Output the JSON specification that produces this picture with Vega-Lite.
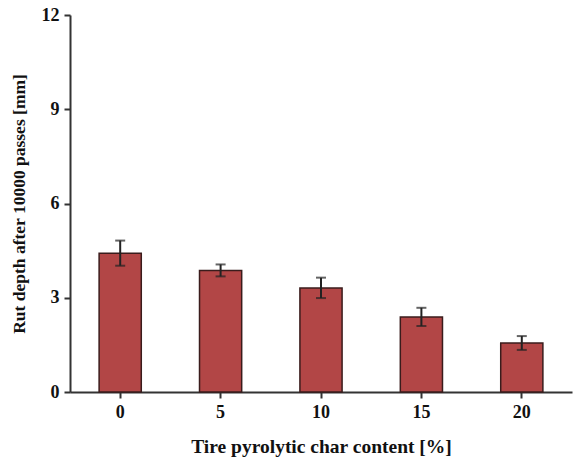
{
  "$schema": "https://vega.github.io/schema/vega-lite/v6.json",
  "autosize": "none",
  "padding": {"left": 70, "top": 15, "right": 3, "bottom": 67},
  "width": 502,
  "height": 377,
  "background": "white",
  "data": {
    "values": [
      {"content": "0", "depth": 4.42, "lo": 4.02, "hi": 4.82},
      {"content": "5", "depth": 3.87, "lo": 3.68, "hi": 4.06},
      {"content": "10", "depth": 3.31, "lo": 2.99, "hi": 3.64},
      {"content": "15", "depth": 2.39, "lo": 2.1, "hi": 2.68},
      {"content": "20", "depth": 1.56, "lo": 1.34, "hi": 1.78}
    ]
  },
  "config": {
    "view": {"stroke": null},
    "axis": {
      "labelFont": "Liberation Serif",
      "titleFont": "Liberation Serif",
      "labelFontWeight": "bold",
      "titleFontWeight": "bold",
      "labelFontSize": 18,
      "titleFontSize": 17.5,
      "labelColor": "#111",
      "titleColor": "#111",
      "domainColor": "#333",
      "domainWidth": 2,
      "tickColor": "#333",
      "tickWidth": 2,
      "tickSize": 6,
      "grid": false
    }
  },
  "encoding": {
    "x": {
      "field": "content",
      "type": "ordinal",
      "sort": null,
      "scale": {"paddingInner": 0.58, "paddingOuter": 0.29},
      "axis": {"title": "Tire pyrolytic char content [%]", "titleFontSize": 19.5, "labelAngle": 0, "labelPadding": 5, "titlePadding": 16}
    }
  },
  "layer": [
    {
      "mark": {"type": "bar", "color": "#b24646", "stroke": "#3a1c1c", "strokeWidth": 1.5},
      "encoding": {
        "y": {
          "field": "depth",
          "type": "quantitative",
          "scale": {"domain": [0, 12]},
          "axis": {"title": "Rut depth after 10000 passes [mm]", "values": [0, 3, 6, 9, 12], "labelPadding": 5, "titlePadding": 13}
        }
      }
    },
    {
      "mark": {"type": "rule", "color": "#222", "strokeWidth": 2},
      "encoding": {
        "y": {"field": "lo", "type": "quantitative"},
        "y2": {"field": "hi"}
      }
    },
    {
      "mark": {"type": "tick", "color": "#222", "thickness": 2, "size": 10},
      "encoding": {"y": {"field": "lo", "type": "quantitative"}}
    },
    {
      "mark": {"type": "tick", "color": "#222", "thickness": 2, "size": 10},
      "encoding": {"y": {"field": "hi", "type": "quantitative"}}
    }
  ]
}
